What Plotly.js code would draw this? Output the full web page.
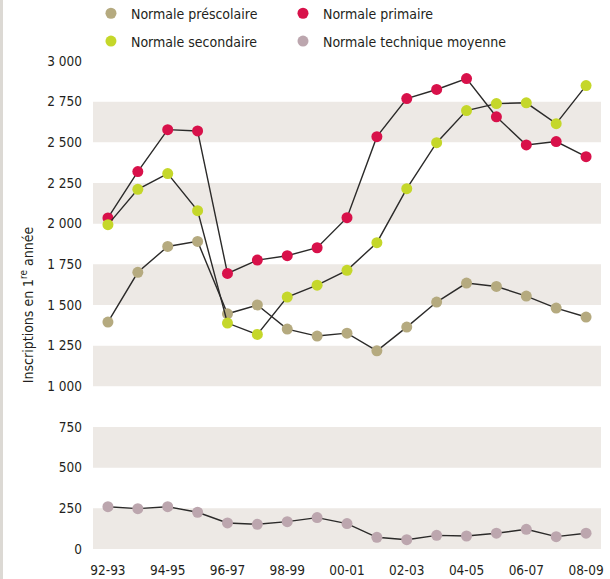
<!DOCTYPE html>
<html><head><meta charset="utf-8">
<script src="https://cdn.plot.ly/plotly-3.0.1.min.js"></script>
<style>html,body{margin:0;padding:0;background:#fff}#chart{width:610px;height:579px}</style>
</head><body><div id="chart"></div>
<script>
var years = ['92-93','93-94','94-95','95-96','96-97','97-98','98-99','99-00','00-01','01-02','02-03','03-04','04-05','05-06','06-07','07-08','08-09'];
var labelYears = ['92-93','94-95','96-97','98-99','00-01','02-03','04-05','06-07','08-09'];
var prescolaire = [1395,1701,1860,1891,1446,1500,1352,1309,1327,1218,1364,1518,1635,1614,1555,1481,1426];
var primaire    = [2035,2320,2578,2570,1694,1776,1803,1852,2037,2535,2769,2825,2892,2657,2484,2505,2412];
var secondaire  = [1994,2211,2308,2080,1389,1319,1549,1622,1713,1883,2215,2498,2695,2738,2743,2615,2849];
var technique   = [260,248,260,226,160,152,168,193,156,72,57,84,80,97,121,76,97];
var yTicks = [0,250,500,750,1000,1250,1500,1750,2000,2250,2500,2750,3000];

var FONT = '"DejaVu Sans Condensed","DejaVu Sans",sans-serif';
var TXT = '#231f20';
var LINE = '#2b2a29';
var series = [
  {name:'Normale préscolaire', y:prescolaire, color:'#b5aa7f', legend:'legend'},
  {name:'Normale primaire', y:primaire, color:'#d8114a', legend:'legend2'},
  {name:'Normale secondaire', y:secondaire, color:'#c5d72a', legend:'legend3'},
  {name:'Normale technique moyenne', y:technique, color:'#bca6ae', legend:'legend4'}
];
var traces = [];
series.forEach(function(s){
  traces.push({x:years, y:s.y, type:'scatter', mode:'lines+markers', showlegend:false,
    line:{color:LINE, width:1.4}, marker:{color:s.color, size:11}, hoverinfo:'x+y'});
});
series.forEach(function(s){
  traces.push({x:[null], y:[null], type:'scatter', mode:'markers', name:s.name, legend:s.legend,
    marker:{color:s.color, size:11}});
});

var shapes = [];
for (var i = 0; i + 1 < yTicks.length; i += 2) {
  shapes.push({type:'rect', xref:'paper', yref:'y', x0:0, x1:1, y0:yTicks[i], y1:yTicks[i+1],
    fillcolor:'#ede9e5', line:{width:0}, layer:'below'});
}
shapes.push({type:'rect', xref:'paper', yref:'paper', x0:-93/508, x1:-90/508, y0:-30/488, y1:1+61/488,
  fillcolor:'#dcd9d4', line:{width:0}, layer:'below'});

function leg(x, y) {
  return {orientation:'h', x:x, y:y, xanchor:'left', yanchor:'middle', bgcolor:'rgba(0,0,0,0)',
    font:{family:FONT, size:14, color:TXT}, itemwidth:30};
}

var layout = {
  width:610, height:579,
  margin:{l:93, r:9, t:61, b:30, autoexpand:false},
  paper_bgcolor:'#fff', plot_bgcolor:'#fff',
  font:{family:FONT, size:14, color:TXT},
  separators:', ',
  showlegend:true,
  legend:leg(-0.004, 1.097),
  legend2:leg(0.374, 1.097),
  legend3:leg(-0.004, 1.040),
  legend4:leg(0.374, 1.040),
  xaxis:{type:'category', range:[-0.5,16.5], tickmode:'array', tickvals:labelYears, ticktext:labelYears,
    showgrid:false, zeroline:false, showline:false, ticks:'', ticklabelstandoff:11,
    tickfont:{family:FONT, size:13.5, color:TXT}, fixedrange:true},
  yaxis:{range:[0,3000], tickmode:'array', tickvals:yTicks, separatethousands:true, tickformat:',d',
    showgrid:false, zeroline:false, showline:false, ticks:'', ticklabelstandoff:10,
    tickfont:{family:FONT, size:13.5, color:TXT},
    title:{text:'Inscriptions en 1<sup>re</sup> année', font:{family:FONT, size:14, color:TXT}, standoff:10}, fixedrange:true},
  shapes:shapes
};
Plotly.newPlot('chart', traces, layout, {displayModeBar:false, staticPlot:true});
</script></body></html>
